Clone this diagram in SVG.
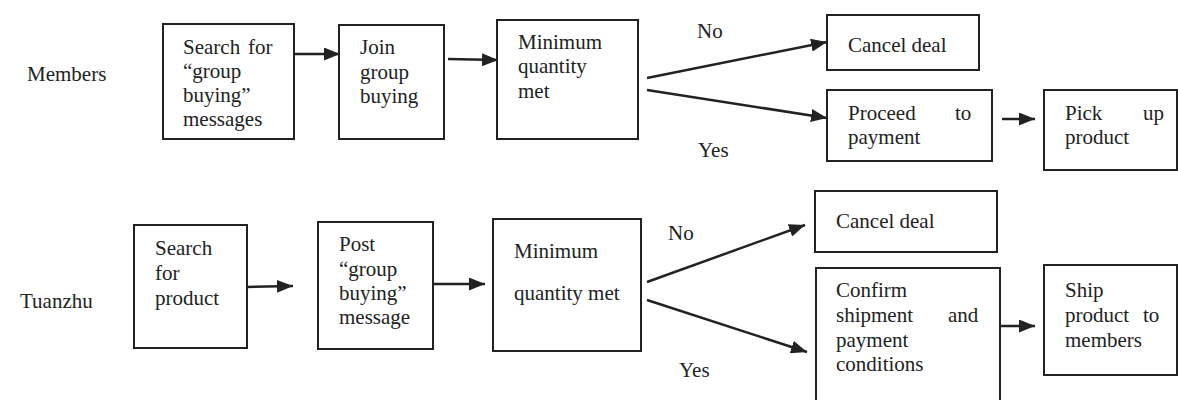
<svg xmlns="http://www.w3.org/2000/svg" width="1178" height="400" viewBox="0 0 1178 400">
<style>
.box{fill:#fff;stroke:#222;stroke-width:2}
.t{font-family:'Liberation Serif','Times New Roman',serif;font-size:21px;fill:#222}
.c line{stroke:#222;stroke-width:2.5;marker-end:url(#ah)}
</style>
<defs>
<marker id="ah" markerUnits="userSpaceOnUse" markerWidth="17" markerHeight="13" refX="16" refY="6.5" orient="auto">
<path d="M0,0 L16,6.5 L0,13 z" fill="#222"/>
</marker>
</defs>
<rect width="1178" height="400" fill="#fff"/>
<g id="lane-labels" class="t">
<text x="27" y="81">Members</text>
<text x="20" y="308">Tuanzhu</text>
</g>
<g id="m1" class="t"><rect class="box" x="163" y="24" width="131" height="115"/>
<text x="183" y="54">Search</text><text x="248" y="54">for</text>
<text x="183" y="78">“group</text><text x="183" y="102">buying”</text><text x="183" y="126">messages</text></g>
<g id="m2" class="t"><rect class="box" x="339" y="25" width="105" height="114"/>
<text x="360" y="54">Join</text><text x="360" y="79">group</text><text x="360" y="103">buying</text></g>
<g id="m3" class="t"><rect class="box" x="497" y="20" width="141" height="119"/>
<text x="518" y="49">Minimum</text><text x="518" y="73">quantity</text><text x="518" y="98">met</text></g>
<g id="m4" class="t"><rect class="box" x="827" y="15" width="152" height="55"/>
<text x="848" y="52">Cancel deal</text></g>
<g id="m5" class="t"><rect class="box" x="827" y="90" width="165" height="71"/>
<text x="848" y="120">Proceed</text><text x="955" y="120">to</text><text x="848" y="144">payment</text></g>
<g id="m6" class="t"><rect class="box" x="1044" y="90" width="133" height="80"/>
<text x="1065" y="120">Pick</text><text x="1143" y="120">up</text><text x="1065" y="144">product</text></g>
<g id="t1" class="t"><rect class="box" x="134" y="225" width="113" height="123"/>
<text x="155" y="255">Search</text><text x="155" y="280">for</text><text x="155" y="305">product</text></g>
<g id="t2" class="t"><rect class="box" x="318" y="222" width="115" height="127"/>
<text x="339" y="251">Post</text><text x="339" y="276">“group</text><text x="339" y="300">buying”</text><text x="339" y="324">message</text></g>
<g id="t3" class="t"><rect class="box" x="493" y="219" width="148" height="132"/>
<text x="514" y="258">Minimum</text><text x="514" y="300">quantity met</text></g>
<g id="t4" class="t"><rect class="box" x="815" y="191" width="182" height="61"/>
<text x="836" y="228">Cancel deal</text></g>
<g id="t5" class="t"><rect class="box" x="816" y="268" width="184" height="136"/>
<text x="836" y="297">Confirm</text><text x="836" y="322">shipment</text><text x="948" y="322">and</text>
<text x="836" y="347">payment</text><text x="836" y="371">conditions</text></g>
<g id="t6" class="t"><rect class="box" x="1044" y="265" width="133" height="110"/>
<text x="1065" y="297">Ship</text><text x="1065" y="322">product</text><text x="1143" y="322">to</text><text x="1065" y="347">members</text></g>
<g id="connectors" class="c">
<line x1="294" y1="54" x2="340" y2="54"/>
<line x1="448" y1="59" x2="498" y2="60"/>
<line x1="647" y1="78" x2="827" y2="42"/>
<line x1="647" y1="90" x2="827" y2="118"/>
<line x1="1002" y1="119" x2="1035" y2="119"/>
<line x1="247" y1="287" x2="293" y2="286"/>
<line x1="433" y1="284" x2="485" y2="284"/>
<line x1="647" y1="282" x2="805" y2="225"/>
<line x1="647" y1="300" x2="807" y2="352"/>
<line x1="1000" y1="326" x2="1035" y2="326"/>
</g>
<g id="edge-labels" class="t">
<text x="697" y="38">No</text>
<text x="698" y="157">Yes</text>
<text x="668" y="240">No</text>
<text x="679" y="377">Yes</text>
</g>
</svg>
